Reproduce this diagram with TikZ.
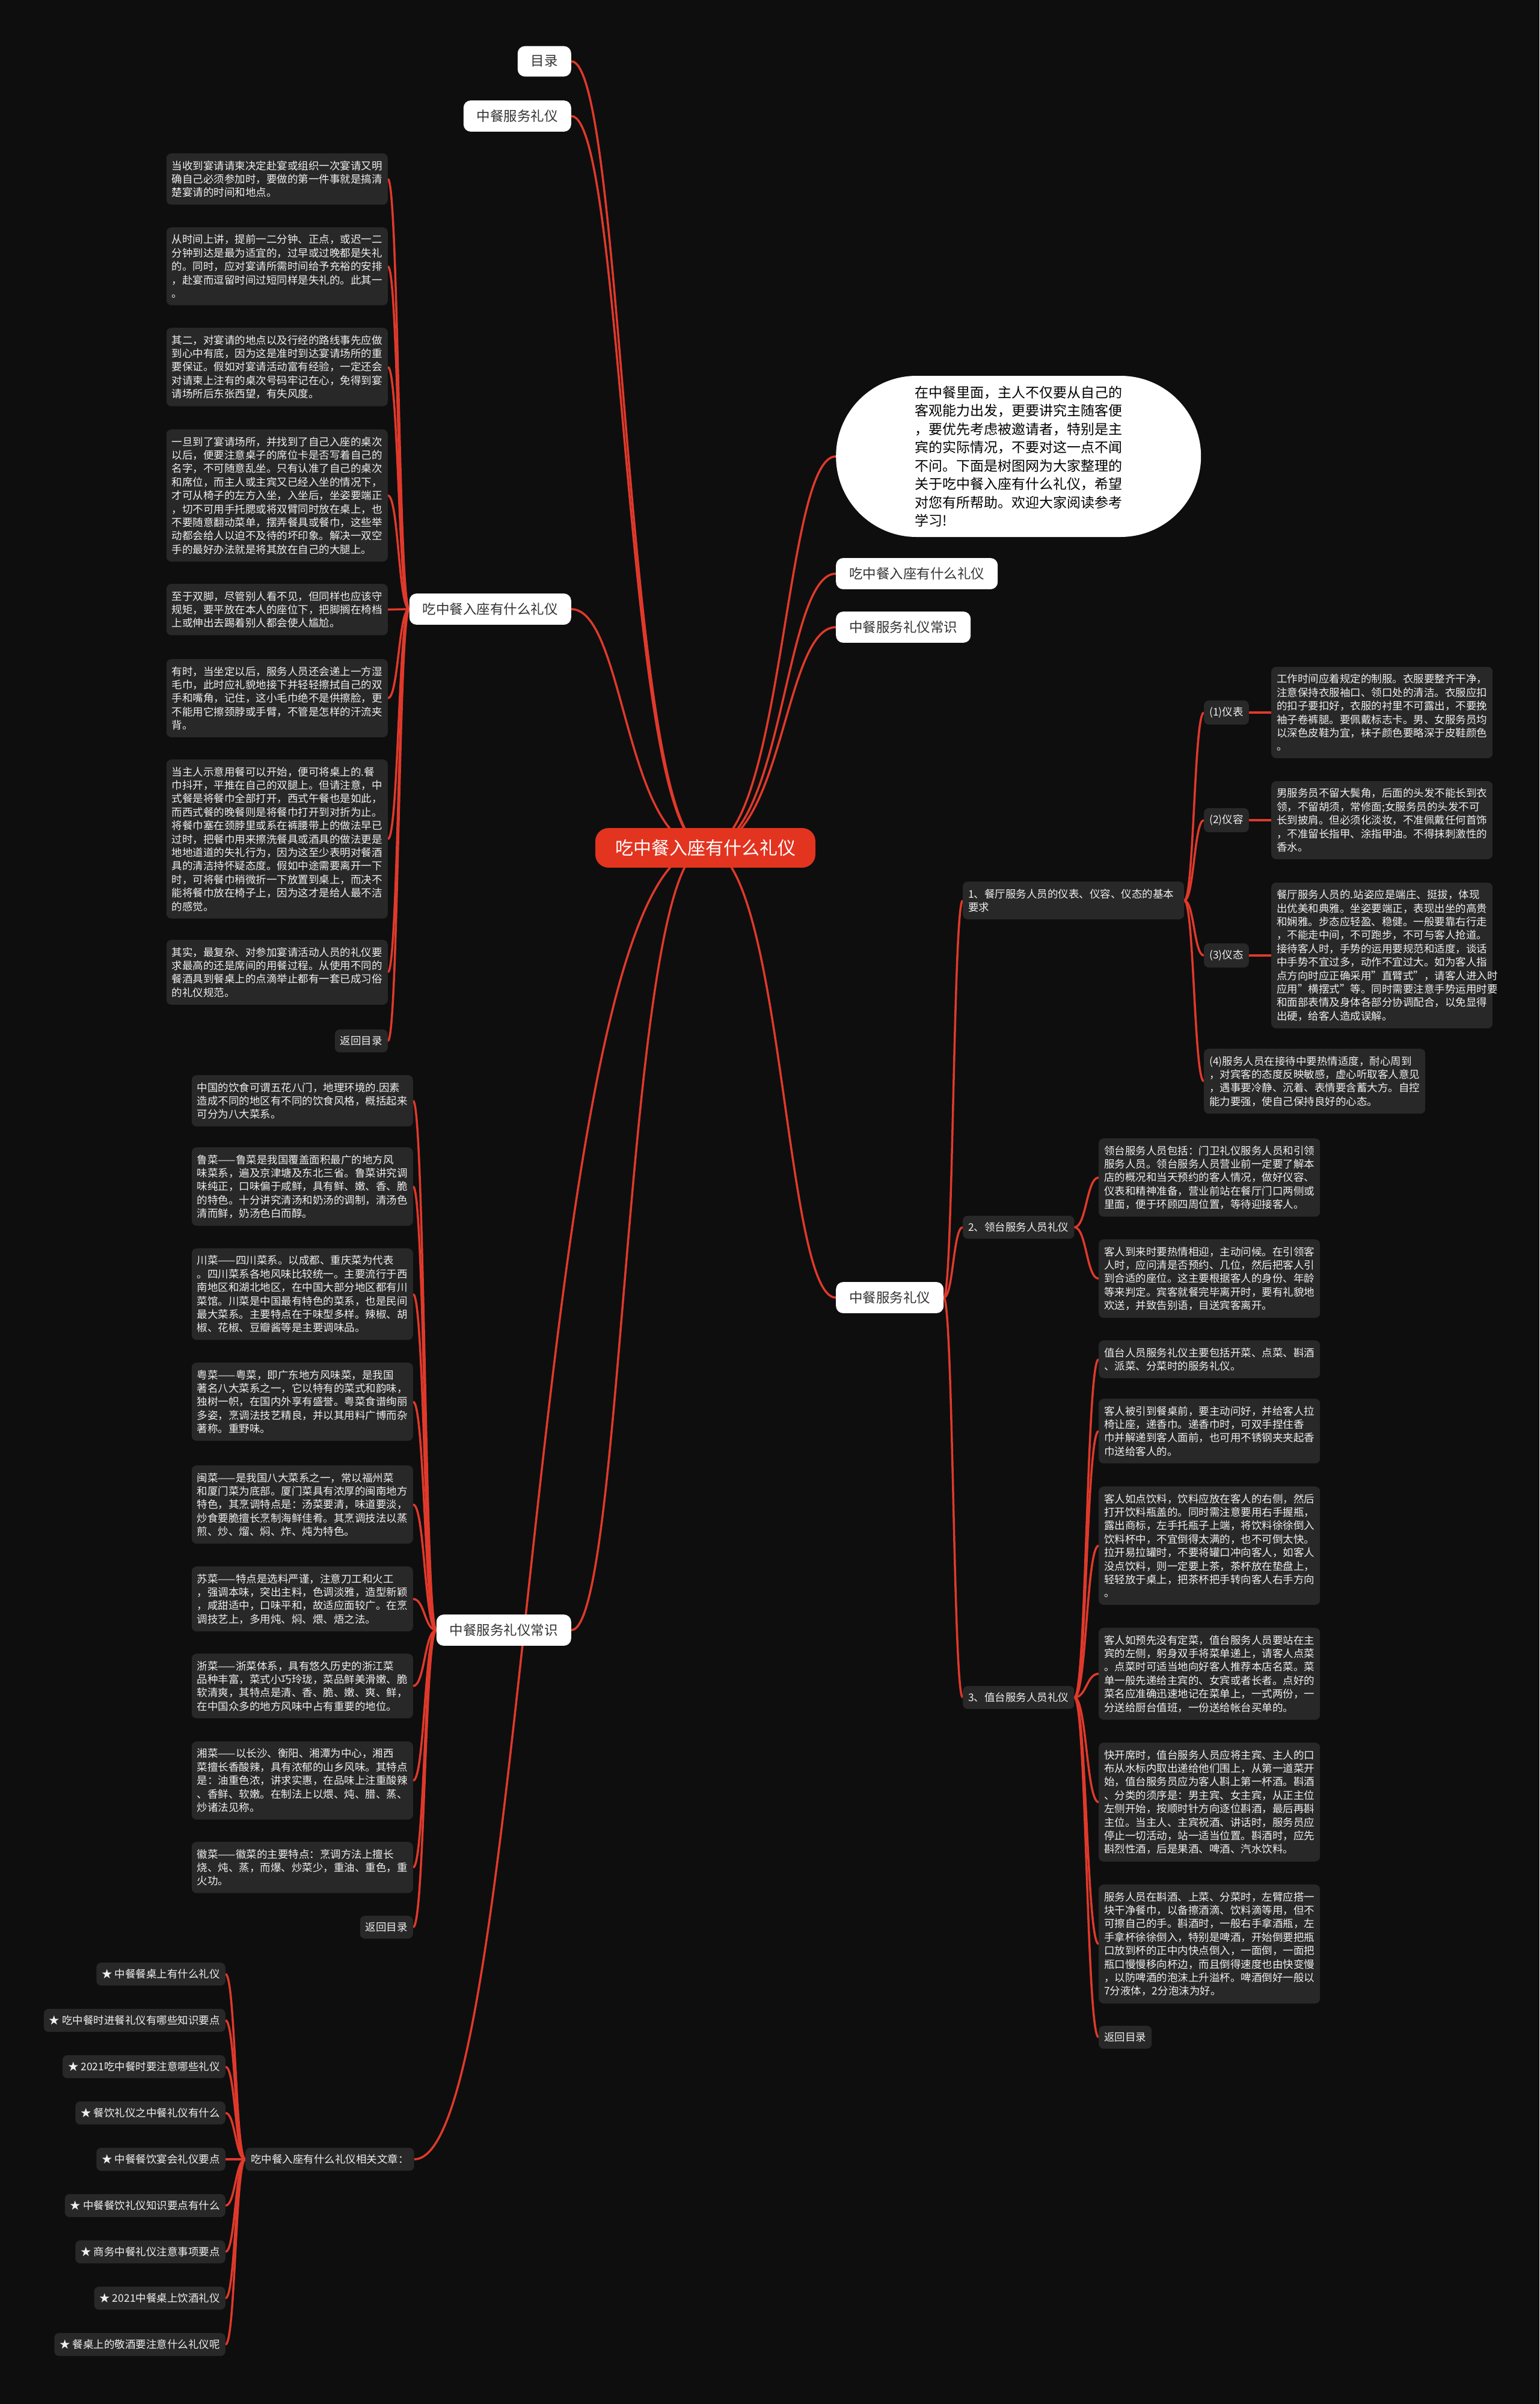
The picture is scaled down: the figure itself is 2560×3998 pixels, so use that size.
\documentclass[tikz,border=0pt]{standalone}
\usepackage{fontspec}
\setmainfont{Noto Sans CJK SC}
\usetikzlibrary{calc}
\pgfdeclarelayer{back}
\pgfdeclarelayer{bg}
\pgfsetlayers{back,bg,main}
\definecolor{bgc}{HTML}{0E0E0E}
\definecolor{boxc}{HTML}{282828}
\definecolor{txtc}{HTML}{F0F0F0}
\definecolor{linkc}{HTML}{E0392B}
\definecolor{rootc}{HTML}{E33420}
\definecolor{darktxt}{HTML}{333333}
\newcommand\lk[2]{\path ($(#1)!0.5!(#2)$) coordinate (lkm); \draw[link] (#1) .. controls (lkm |- #1) and (lkm |- #2) .. (#2);}
\newcommand\rk[1]{\path ($(#1)!0.4!(root.center)$) coordinate (lkm); \draw[link] (root.center) .. controls (lkm |- root.center) and (lkm |- #1) .. (#1);}
\tikzset{
  link/.style={draw=linkc, line width=3.5},
  txtbox/.style={fill=boxc, rounded corners=8, text=txtc, font=\fontsize{17.5}{22.4}\selectfont, align=left, text width=350, inner xsep=9, inner ysep=12},
  lbl/.style={fill=boxc, rounded corners=8, text=txtc, font=\fontsize{17.5}{22.4}\selectfont, inner xsep=9, inner ysep=11},
  lvone/.style={fill=white, rounded corners=12, text=darktxt, font=\fontsize{22.5}{28}\selectfont, inner xsep=22, inner ysep=15.5},
}
\begin{document}
\begin{tikzpicture}[x=1pt,y=-1pt]
\begin{pgfonlayer}{back}
\fill[bgc] (0,0) rectangle (2560,3998);
\end{pgfonlayer}
\useasboundingbox (0,0) rectangle (2560,3998);

% root
\node[fill=rootc, rounded corners=22, text=white, font=\fontsize{30}{36}\selectfont, inner xsep=33, inner ysep=19] (root) at (1173,1410) {吃中餐入座有什么礼仪};

% level one
\node[lvone, anchor=east] (mulu) at (950,102) {目录};
\node[lvone, anchor=east] (zfa) at (950,193) {中餐服务礼仪};
\node[lvone, anchor=east] (pA) at (950,1013) {吃中餐入座有什么礼仪};
\node[lvone, anchor=east] (pB) at (950,2711) {中餐服务礼仪常识};
\node[lbl, anchor=west] (pC) at (408,3591) {吃中餐入座有什么礼仪相关文章：};
\node[fill=white, rounded corners=134, minimum width=607, minimum height=268, text=black, font=\fontsize{23}{30.5}\selectfont, align=left, anchor=west] (intro) at (1390,759) {在中餐里面，主人不仅要从自己的\\客观能力出发，更要讲究主随客便\\，要优先考虑被邀请者，特别是主\\宾的实际情况，不要对这一点不闻\\不问。下面是树图网为大家整理的\\关于吃中餐入座有什么礼仪，希望\\对您有所帮助。欢迎大家阅读参考\\学习!};
\node[lvone, anchor=west] (rA) at (1390,954) {吃中餐入座有什么礼仪};
\node[lvone, anchor=west] (rB) at (1390,1043) {中餐服务礼仪常识};
\node[lvone, anchor=west] (pR) at (1390,2158) {中餐服务礼仪};

% group A
\node[txtbox, anchor=north east] (a1) at (645,255) {当收到宴请请柬决定赴宴或组织一次宴请又明\\确自己必须参加时，要做的第一件事就是搞清\\楚宴请的时间和地点。};
\node[txtbox, anchor=north east] (a2) at (645,378) {从时间上讲，提前一二分钟、正点，或迟一二\\分钟到达是最为适宜的，过早或过晚都是失礼\\的。同时，应对宴请所需时间给予充裕的安排\\，赴宴而逗留时间过短同样是失礼的。此其一\\。};
\node[txtbox, anchor=north east] (a3) at (645,545) {其二，对宴请的地点以及行经的路线事先应做\\到心中有底，因为这是准时到达宴请场所的重\\要保证。假如对宴请活动富有经验，一定还会\\对请柬上注有的桌次号码牢记在心，免得到宴\\请场所后东张西望，有失风度。};
\node[txtbox, anchor=north east] (a4) at (645,714) {一旦到了宴请场所，并找到了自己入座的桌次\\以后，便要注意桌子的席位卡是否写着自己的\\名字，不可随意乱坐。只有认准了自己的桌次\\和席位，而主人或主宾又已经入坐的情况下，\\才可从椅子的左方入坐，入坐后，坐姿要端正\\，切不可用手托腮或将双臂同时放在桌上，也\\不要随意翻动菜单，摆弄餐具或餐巾，这些举\\动都会给人以迫不及待的坏印象。解决一双空\\手的最好办法就是将其放在自己的大腿上。};
\node[txtbox, anchor=north east] (a5) at (645,971) {至于双脚，尽管别人看不见，但同样也应该守\\规矩，要平放在本人的座位下，把脚搁在椅档\\上或伸出去踢着别人都会使人尴尬。};
\node[txtbox, anchor=north east] (a6) at (645,1096) {有时，当坐定以后，服务人员还会递上一方湿\\毛巾，此时应礼貌地接下并轻轻擦拭自己的双\\手和嘴角，记住，这小毛巾绝不是供擦脸，更\\不能用它擦颈脖或手臂，不管是怎样的汗流夹\\背。};
\node[txtbox, anchor=north east] (a7) at (645,1263) {当主人示意用餐可以开始，便可将桌上的.餐\\巾抖开，平推在自己的双腿上。但请注意，中\\式餐是将餐巾全部打开，西式午餐也是如此，\\而西式餐的晚餐则是将餐巾打开到对折为止。\\将餐巾塞在颈脖里或系在裤腰带上的做法早已\\过时，把餐巾用来擦洗餐具或酒具的做法更是\\地地道道的失礼行为，因为这至少表明对餐酒\\具的清洁持怀疑态度。假如中途需要离开一下\\时，可将餐巾稍微折一下放置到桌上，而决不\\能将餐巾放在椅子上，因为这才是给人最不洁\\的感觉。};
\node[txtbox, anchor=north east] (a8) at (645,1563) {其实，最复杂、对参加宴请活动人员的礼仪要\\求最高的还是席间的用餐过程。从使用不同的\\餐酒具到餐桌上的点滴举止都有一套已成习俗\\的礼仪规范。};
\node[lbl, anchor=north east] (a9) at (645,1712) {返回目录};

% group B
\node[txtbox, anchor=north east] (b1) at (687,1788) {中国的饮食可谓五花八门，地理环境的.因素\\造成不同的地区有不同的饮食风格，概括起来\\可分为八大菜系。};
\node[txtbox, anchor=north east] (b2) at (687,1908) {鲁菜——鲁菜是我国覆盖面积最广的地方风\\味菜系，遍及京津塘及东北三省。鲁菜讲究调\\味纯正，口味偏于咸鲜，具有鲜、嫩、香、脆\\的特色。十分讲究清汤和奶汤的调制，清汤色\\清而鲜，奶汤色白而醇。};
\node[txtbox, anchor=north east] (b3) at (687,2076) {川菜——四川菜系。以成都、重庆菜为代表\\。四川菜系各地风味比较统一。主要流行于西\\南地区和湖北地区，在中国大部分地区都有川\\菜馆。川菜是中国最有特色的菜系，也是民间\\最大菜系。主要特点在于味型多样。辣椒、胡\\椒、花椒、豆瓣酱等是主要调味品。};
\node[txtbox, anchor=north east] (b4) at (687,2266) {粤菜——粤菜，即广东地方风味菜，是我国\\著名八大菜系之一，它以特有的菜式和韵味，\\独树一帜，在国内外享有盛誉。粤菜食谱绚丽\\多姿，烹调法技艺精良，并以其用料广博而杂\\著称。重野味。};
\node[txtbox, anchor=north east] (b5) at (687,2437) {闽菜——是我国八大菜系之一，常以福州菜\\和厦门菜为底部。厦门菜具有浓厚的闽南地方\\特色，其烹调特点是：汤菜要清，味道要淡，\\炒食要脆擅长烹制海鲜佳肴。其烹调技法以蒸\\煎、炒、熘、焖、炸、炖为特色。};
\node[txtbox, anchor=north east] (b6) at (687,2605) {苏菜——特点是选料严谨，注意刀工和火工\\，强调本味，突出主料，色调淡雅，造型新颖\\，咸甜适中，口味平和，故适应面较广。在烹\\调技艺上，多用炖、焖、煨、焐之法。};
\node[txtbox, anchor=north east] (b7) at (687,2750) {浙菜——浙菜体系，具有悠久历史的浙江菜\\品种丰富，菜式小巧玲珑，菜品鲜美滑嫩、脆\\软清爽，其特点是清、香、脆、嫩、爽、鲜，\\在中国众多的地方风味中占有重要的地位。};
\node[txtbox, anchor=north east] (b8) at (687,2896) {湘菜——以长沙、衡阳、湘潭为中心，湘西\\菜擅长香酸辣，具有浓郁的山乡风味。其特点\\是：油重色浓，讲求实惠，在品味上注重酸辣\\、香鲜、软嫩。在制法上以煨、炖、腊、蒸、\\炒诸法见称。};
\node[txtbox, anchor=north east] (b9) at (687,3063) {徽菜——徽菜的主要特点：烹调方法上擅长\\烧、炖、蒸，而爆、炒菜少，重油、重色，重\\火功。};
\node[lbl, anchor=north east] (b10) at (687,3186) {返回目录};

% group C (related articles)
\node[lbl, anchor=east] (c1) at (375,3283) {★ 中餐餐桌上有什么礼仪};
\node[lbl, anchor=east] (c2) at (375,3360) {★ 吃中餐时进餐礼仪有哪些知识要点};
\node[lbl, anchor=east] (c3) at (375,3437) {★ 2021吃中餐时要注意哪些礼仪};
\node[lbl, anchor=east] (c4) at (375,3514) {★ 餐饮礼仪之中餐礼仪有什么};
\node[lbl, anchor=east] (c5) at (375,3591) {★ 中餐餐饮宴会礼仪要点};
\node[lbl, anchor=east] (c6) at (375,3668) {★ 中餐餐饮礼仪知识要点有什么};
\node[lbl, anchor=east] (c7) at (375,3745) {★ 商务中餐礼仪注意事项要点};
\node[lbl, anchor=east] (c8) at (375,3822) {★ 2021中餐桌上饮酒礼仪};
\node[lbl, anchor=east] (c9) at (375,3899) {★ 餐桌上的敬酒要注意什么礼仪呢};

% right group
\node[lbl, anchor=north west, text width=350, align=left, inner ysep=12] (r1) at (1601,1466) {1、餐厅服务人员的仪表、仪容、仪态的基本\\要求};
\node[lbl, anchor=west] (r2) at (1601,2041) {2、领台服务人员礼仪};
\node[lbl, anchor=west] (r3) at (1601,2823) {3、值台服务人员礼仪};

\node[lbl, anchor=west] (s1) at (2002,1185) {(1)仪表};
\node[lbl, anchor=west] (s2) at (2002,1364) {(2)仪容};
\node[lbl, anchor=west] (s3) at (2002,1589) {(3)仪态};
\node[txtbox, anchor=north west] (s4) at (2002,1744) {(4)服务人员在接待中要热情适度，耐心周到\\，对宾客的态度反映敏感，虚心听取客人意见\\，遇事要冷静、沉着、表情要含蓄大方。自控\\能力要强，使自己保持良好的心态。};

\node[txtbox, anchor=west] (t1) at (2114,1185) {工作时间应着规定的制服。衣服要整齐干净，\\注意保持衣服袖口、领口处的清洁。衣服应扣\\的扣子要扣好，衣服的衬里不可露出，不要挽\\袖子卷裤腿。要佩戴标志卡。男、女服务员均\\以深色皮鞋为宜，袜子颜色要略深于皮鞋颜色\\。};
\node[txtbox, anchor=west] (t2) at (2114,1364) {男服务员不留大鬓角，后面的头发不能长到衣\\领，不留胡须，常修面;女服务员的头发不可\\长到披肩。但必须化淡妆，不准佩戴任何首饰\\，不准留长指甲、涂指甲油。不得抹刺激性的\\香水。};
\node[txtbox, anchor=west] (t3) at (2114,1589) {餐厅服务人员的.站姿应是端庄、挺拔，体现\\出优美和典雅。坐姿要端正，表现出坐的高贵\\和娴雅。步态应轻盈、稳健。一般要靠右行走\\，不能走中间，不可跑步，不可与客人抢道。\\接待客人时，手势的运用要规范和适度，谈话\\中手势不宜过多，动作不宜过大。如为客人指\\点方向时应正确采用"直臂式"，请客人进入时\\应用"横摆式"等。同时需要注意手势运用时要\\和面部表情及身体各部分协调配合，以免显得\\出硬，给客人造成误解。};

\node[txtbox, anchor=north west] (u1) at (1827,1893) {领台服务人员包括：门卫礼仪服务人员和引领\\服务人员。领台服务人员营业前一定要了解本\\店的概况和当天预约的客人情况，做好仪容、\\仪表和精神准备，营业前站在餐厅门口两侧或\\里面，便于环顾四周位置，等待迎接客人。};
\node[txtbox, anchor=north west] (u2) at (1827,2061) {客人到来时要热情相迎，主动问候。在引领客\\人时，应问清是否预约、几位，然后把客人引\\到合适的座位。这主要根据客人的身份、年龄\\等来判定。宾客就餐完毕离开时，要有礼貌地\\欢送，并致告别语，目送宾客离开。};

\node[txtbox, anchor=north west] (v1) at (1827,2229) {值台人员服务礼仪主要包括开菜、点菜、斟酒\\、派菜、分菜时的服务礼仪。};
\node[txtbox, anchor=north west] (v2) at (1827,2326) {客人被引到餐桌前，要主动问好，并给客人拉\\椅让座，递香巾。递香巾时，可双手捏住香\\巾并解递到客人面前，也可用不锈钢夹夹起香\\巾送给客人的。};
\node[txtbox, anchor=north west] (v3) at (1827,2472) {客人如点饮料，饮料应放在客人的右侧，然后\\打开饮料瓶盖的。同时需注意要用右手握瓶，\\露出商标，左手托瓶子上端，将饮料徐徐倒入\\饮料杯中，不宜倒得太满的，也不可倒太快。\\拉开易拉罐时，不要将罐口冲向客人，如客人\\没点饮料，则一定要上茶，茶杯放在垫盘上，\\轻轻放于桌上，把茶杯把手转向客人右手方向\\。};
\node[txtbox, anchor=north west] (v4) at (1827,2707) {客人如预先没有定菜，值台服务人员要站在主\\宾的左侧，躬身双手将菜单递上，请客人点菜\\。点菜时可适当地向好客人推荐本店名菜。菜\\单一般先递给主宾的、女宾或者长者。点好的\\菜名应准确迅速地记在菜单上，一式两份，一\\分送给厨台值班，一份送给帐台买单的。};
\node[txtbox, anchor=north west] (v5) at (1827,2898) {快开席时，值台服务人员应将主宾、主人的口\\布从水标内取出递给他们围上，从第一道菜开\\始，值台服务员应为客人斟上第一杯酒。斟酒\\、分类的须序是：男主宾、女主宾，从正主位\\左侧开始，按顺时针方向逐位斟酒，最后再斟\\主位。当主人、主宾祝酒、讲话时，服务员应\\停止一切活动，站一适当位置。斟酒时，应先\\斟烈性酒，后是果酒、啤酒、汽水饮料。};
\node[txtbox, anchor=north west] (v6) at (1827,3134) {服务人员在斟酒、上菜、分菜时，左臂应搭一\\块干净餐巾，以备擦酒滴、饮料滴等用，但不\\可擦自己的手。斟酒时，一般右手拿酒瓶，左\\手拿杯徐徐倒入，特别是啤酒，开始倒要把瓶\\口放到杯的正中内快点倒入，一面倒，一面把\\瓶口慢慢移向杯边，而且倒得速度也由快变慢\\，以防啤酒的泡沫上升溢杯。啤酒倒好一般以\\7分液体，2分泡沫为好。};
\node[lbl, anchor=north west] (v7) at (1827,3369) {返回目录};

% links
\begin{pgfonlayer}{bg}
\rk{mulu.east}
\rk{zfa.east}
\rk{pA.east}
\rk{pB.east}
\rk{pC.east}
\rk{intro.west}
\rk{rA.west}
\rk{rB.west}
\rk{pR.west}
\foreach \n in {a1,a2,a3,a4,a5,a6,a7,a8,a9}{\lk{pA.west}{\n.east}}
\foreach \n in {b1,b2,b3,b4,b5,b6,b7,b8,b9,b10}{\lk{pB.west}{\n.east}}
\foreach \n in {c1,c2,c3,c4,c5,c6,c7,c8,c9}{\lk{pC.west}{\n.east}}
\foreach \n in {r1,r2,r3}{\lk{pR.east}{\n.west}}
\foreach \n in {s1,s2,s3,s4}{\lk{r1.east}{\n.west}}
\foreach \n in {u1,u2}{\lk{r2.east}{\n.west}}
\foreach \n in {v1,v2,v3,v4,v5,v6,v7}{\lk{r3.east}{\n.west}}
\draw[link] (s1.east) -- (t1.west);
\draw[link] (s2.east) -- (t2.west);
\draw[link] (s3.east) -- (t3.west);
\end{pgfonlayer}
\end{tikzpicture}
\end{document}
